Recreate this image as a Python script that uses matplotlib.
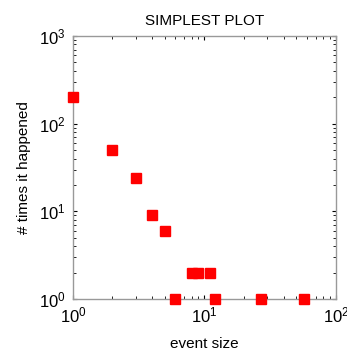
import matplotlib.pyplot as plt
from matplotlib.ticker import LogLocator, NullFormatter

plt.rcParams['font.family'] = ['Liberation Sans', 'DejaVu Sans']

event_size = [1, 2, 3, 4, 5, 6, 8, 9, 11, 12, 27, 57]
times = [200, 50, 24, 9, 6, 1, 2, 2, 2, 1, 1, 1]

fig = plt.figure(figsize=(3.47, 3.56), dpi=100)
ax = fig.add_axes([0.210, 0.160, 0.758, 0.739])

ax.loglog(event_size, times, 's', color='red', markersize=7, clip_on=False, zorder=5)

ax.set_xlim(1, 100)
ax.set_ylim(1, 1000)
ax.xaxis.set_minor_locator(LogLocator(subs=range(2, 10)))
ax.yaxis.set_minor_locator(LogLocator(subs=range(2, 10)))
ax.xaxis.set_minor_formatter(NullFormatter())
ax.yaxis.set_minor_formatter(NullFormatter())

ax.tick_params(which='both', direction='in', top=True, right=True, labelsize=12, pad=5)
ax.tick_params(which='major', length=3, width=0.8)
ax.tick_params(which='minor', length=2, width=0.6)
for s in ax.spines.values():
    s.set_color('#999999')
    s.set_linewidth(1.0)

ax.set_xlabel("event size", fontsize=11, labelpad=8)
ax.set_ylabel("# times it happened", fontsize=11, labelpad=6)
ax.set_title("SIMPLEST PLOT", fontsize=11, pad=8)

plt.savefig("out.png", dpi=100)
